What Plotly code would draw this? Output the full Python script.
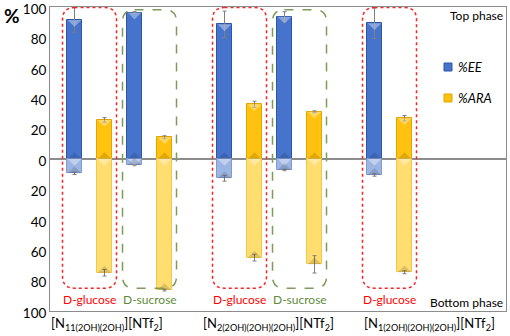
import plotly.graph_objects as go

# ---------------- data ----------------
sugars = ["D-glucose", "D-sucrose", "D-glucose", "D-sucrose", "D-glucose"]
ionic_liquids = ["[N<sub>11(2OH)(2OH)</sub>][NTf<sub>2</sub>]",
                 "[N<sub>2(2OH)(2OH)(2OH)</sub>][NTf<sub>2</sub>]",
                 "[N<sub>1(2OH)(2OH)(2OH)</sub>][NTf<sub>2</sub>]"]
series_names = ["%EE", "%ARA"]
ee_top = [91.5, 96.3, 88.6, 93.6, 89.3]
ee_top_err = [8.0, 0.6, 8.7, 3.3, 10.0]
ara_top = [25.7, 14.3, 36.0, 31.1, 26.8]
ara_top_err = [1.5, 1.0, 2.0, 0.6, 1.8]
ee_bottom = [9.4, 3.9, 12.7, 7.2, 10.5]
ee_bottom_err = [0.8, 0.5, 1.9, 0.5, 0.8]
ara_bottom = [74.8, 86.2, 64.9, 69.3, 74.5]
ara_bottom_err = [2.2, 0.6, 2.2, 5.7, 1.0]
y_ticks = [-100, -80, -60, -40, -20, 0, 20, 40, 60, 80, 100]

# ---------------- layout positions ----------------
ee_pos = [0, 2, 5, 7, 10]
ara_pos = [p + 1 for p in ee_pos]
il_pos = [1.08, 6.48, 11.82]
BW = 0.5
FONT = "Lato, Carlito, Calibri, sans-serif"

EE_C, EE_L = "#4673CC", "#9DB5E3"
ARA_C, ARA_L = "#FFC20E", "#FFDD6E"
ERR = dict(type="data", color="#7F7F7F", thickness=1, width=2)

fig = go.Figure()
fig.add_bar(x=ee_pos, y=ee_top, width=BW, name=series_names[0],
            marker=dict(color=EE_C, line=dict(color="#2F56A6", width=1)),
            error_y=dict(array=ee_top_err, **ERR))
fig.add_bar(x=ara_pos, y=ara_top, width=BW, name=series_names[1],
            marker=dict(color=ARA_C, line=dict(color="#E0A500", width=1)),
            error_y=dict(array=ara_top_err, **ERR))
fig.add_bar(x=ee_pos, y=[-v for v in ee_bottom], width=BW,
            marker=dict(color=EE_L, line=dict(color="#7F9BD3", width=1)),
            error_y=dict(array=ee_bottom_err, **ERR))
fig.add_bar(x=ara_pos, y=[-v for v in ara_bottom], width=BW,
            marker=dict(color=ARA_L, line=dict(color="#F2C84B", width=1)),
            error_y=dict(array=ara_bottom_err, **ERR))

# bevel-like triangles on bars, computed from the data values
LIGHT = "rgba(255,255,255,0.35)"
DARK = "rgba(0,0,0,0.13)"
H = 4.5
def tri(p, ybase, direction, color):
    hw = BW / 2 - 0.02
    fig.add_shape(type="path",
                  path=f"M {p-hw} {ybase} L {p+hw} {ybase} L {p} {ybase + direction*H} Z",
                  fillcolor=color, line=dict(width=0), layer="above")

for pos, tops, bots in [(ee_pos, ee_top, ee_bottom), (ara_pos, ara_top, ara_bottom)]:
    for p, t, b in zip(pos, tops, bots):
        tri(p, t, -1, LIGHT)      # highlight at top of upper bar
        tri(p, 0, 1, DARK)        # shade at base of upper bar
        tri(p, 0, -1, LIGHT)      # highlight at top of lower bar
        tri(p, -b, 1, DARK)       # shade at end of lower bar

# rounded dashed boxes around each sugar pair
def rounded(x0, x1, y0, y1, rx=0.4, ry=8):
    return (f"M {x0+rx} {y1} L {x1-rx} {y1} C {x1-rx/3} {y1} {x1} {y1-ry/3} {x1} {y1-ry} "
            f"L {x1} {y0+ry} C {x1} {y0+ry/3} {x1-rx/3} {y0} {x1-rx} {y0} L {x0+rx} {y0} "
            f"C {x0+rx/3} {y0} {x0} {y0+ry/3} {x0} {y0+ry} L {x0} {y1-ry} "
            f"C {x0} {y1-ry/3} {x0+rx/3} {y1} {x0+rx} {y1} Z")

def px2x(px):
    return (px - 50) / 456
def px2y(py):
    return (311 - py) / 304

annotations = []
for s, e in zip(sugars, ee_pos):
    c = e + 0.5
    if s == "D-glucose":
        col, txtcol, dash, top = "#FF2020", "#FF0000", "dot", 99.6
    else:
        col, txtcol, dash, top = "#7E9B5C", "#5E8B3A", "dash", 98.2
    fig.add_shape(type="path", path=rounded(c - 0.9, c + 0.9, -85, top),
                  line=dict(color=col, width=1.5, dash=dash), layer="above")
    annotations.append(dict(x=c, y=-92.6, text=s, showarrow=False,
                            font=dict(size=12, color=txtcol, family=FONT)))

for t, p in zip(ionic_liquids, il_pos):
    annotations.append(dict(x=p, yref="paper", y=px2y(324), yanchor="middle",
                            text=t, showarrow=False,
                            font=dict(size=13, color="black", family=FONT)))

# manual legend (paper coords)
for name, col, edge, py in [(series_names[0], EE_C, "#2F56A6", 67),
                            (series_names[1], ARA_C, "#E0A500", 98)]:
    fig.add_shape(type="rect", xref="paper", yref="paper",
                  x0=px2x(444), x1=px2x(452), y0=px2y(py + 4), y1=px2y(py - 4),
                  fillcolor=col, line=dict(color=edge, width=1))
    annotations.append(dict(xref="paper", yref="paper", x=px2x(456), y=px2y(py),
                            xanchor="left", yanchor="middle", text=f"<i>{name}</i>",
                            showarrow=False,
                            font=dict(size=13, color="black", family=FONT)))

annotations += [
    dict(xref="paper", yref="paper", x=px2x(12), y=px2y(16), text="<b>%</b>", showarrow=False,
         xanchor="center", yanchor="middle", font=dict(size=19, color="black", family=FONT)),
    dict(xref="paper", x=0.998, y=94.7, text="Top phase", showarrow=False, xanchor="right",
         font=dict(size=12, color="black", family=FONT)),
    dict(xref="paper", x=0.998, y=-94.7, text="Bottom phase", showarrow=False, xanchor="right",
         font=dict(size=12, color="black", family=FONT)),
]

fig.update_layout(
    width=510, height=336,
    margin=dict(l=50, r=4, t=7, b=25, autoexpand=False),
    paper_bgcolor="white", plot_bgcolor="white",
    barmode="overlay", bargap=0,
    font=dict(family=FONT, size=13, color="black"),
    showlegend=False,
    annotations=annotations,
    xaxis=dict(range=[-0.817, 14.383], showticklabels=False, showgrid=False,
               zeroline=False, showline=True, mirror=True, linecolor="#8C8C8C",
               linewidth=1, ticks="", automargin=False),
    yaxis=dict(range=[-100, 100], tickvals=y_ticks,
               ticktext=[str(abs(v)) for v in y_ticks], showgrid=False,
               zeroline=True, zerolinecolor="#8C8C8C", zerolinewidth=1.5,
               showline=True, mirror=True, linecolor="#8C8C8C", linewidth=1,
               ticks="", automargin=False, ticklabeloverflow="allow",
               ticklabelshift=2,
               tickfont=dict(size=13.5, color="black", family=FONT)),
)

fig.write_html("out.html", config={"displayModeBar": False},
               post_script="document.body.style.margin='0';document.body.style.overflow='hidden';")
